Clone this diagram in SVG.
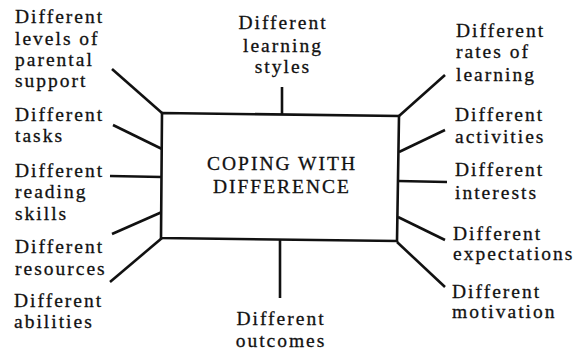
<svg xmlns="http://www.w3.org/2000/svg" width="582" height="352" viewBox="0 0 582 352">
<style>
text{font-family:"Liberation Serif","Times New Roman",serif;font-size:19.5px;letter-spacing:2px;fill:#111;stroke:#111;stroke-width:0.3}
.c{text-anchor:middle}
.ln{stroke:#111;stroke-width:2.6;fill:none;stroke-linecap:butt}
</style>
<rect width="582" height="352" fill="#fff"/>
<g id="connectors">
<line class="ln" x1="282" y1="87" x2="282" y2="114"/>
<line class="ln" x1="280" y1="239" x2="280" y2="298"/>
<line class="ln" x1="112" y1="69" x2="162" y2="113"/>
<line class="ln" x1="113" y1="125" x2="162" y2="149"/>
<line class="ln" x1="110" y1="176" x2="162" y2="177"/>
<line class="ln" x1="112" y1="234" x2="162" y2="212"/>
<line class="ln" x1="110" y1="282" x2="162" y2="238"/>
<line class="ln" x1="445" y1="75" x2="399" y2="116"/>
<line class="ln" x1="445" y1="130" x2="399" y2="152"/>
<line class="ln" x1="447" y1="182" x2="398" y2="181"/>
<line class="ln" x1="445" y1="240" x2="398" y2="217"/>
<line class="ln" x1="445" y1="287" x2="397" y2="242"/>
</g>
<g id="center">
<polygon points="162,113 399,116 397,241 161,238" fill="#fff" stroke="#111" stroke-width="2.6"/>
<text class="c" x="282" y="170">COPING WITH</text>
<text class="c" x="282" y="193">DIFFERENCE</text>
</g>
<g id="parental"><text x="15" y="23">Different</text><text x="15" y="45">levels of</text><text x="15" y="66">parental</text><text x="15" y="87">support</text></g>
<g id="tasks"><text x="15" y="121">Different</text><text x="15" y="142">tasks</text></g>
<g id="reading"><text x="15" y="177">Different</text><text x="15" y="198">reading</text><text x="15" y="220">skills</text></g>
<g id="resources"><text x="15" y="253">Different</text><text x="15" y="275">resources</text></g>
<g id="abilities"><text x="14" y="307">Different</text><text x="14" y="328">abilities</text></g>
<g id="styles"><text class="c" x="283" y="29">Different</text><text class="c" x="283" y="52">learning</text><text class="c" x="283" y="73">styles</text></g>
<g id="outcomes"><text class="c" x="281" y="325">Different</text><text class="c" x="281" y="347">outcomes</text></g>
<g id="rates"><text x="456" y="37">Different</text><text x="456" y="58">rates of</text><text x="456" y="81">learning</text></g>
<g id="activities"><text x="455" y="121">Different</text><text x="455" y="143">activities</text></g>
<g id="interests"><text x="455" y="176">Different</text><text x="455" y="199">interests</text></g>
<g id="expectations"><text x="453" y="240">Different</text><text x="453" y="260">expectations</text></g>
<g id="motivation"><text x="452" y="298">Different</text><text x="452" y="318">motivation</text></g>
</svg>
